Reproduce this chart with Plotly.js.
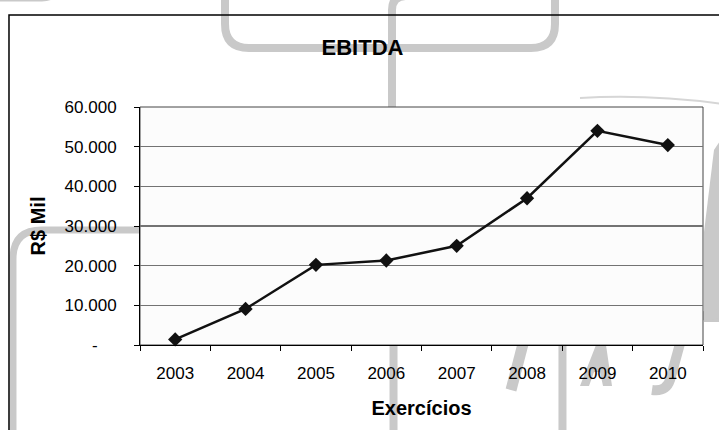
<!DOCTYPE html>
<html>
<head>
<meta charset="utf-8">
<script src="https://cdn.plot.ly/plotly-3.0.1.min.js"></script>
<style>html,body{margin:0;padding:0;background:#fff;}#chart{width:719px;height:430px;}</style>
</head>
<body>
<div id="chart"></div>
<script>
// ---- data ----
var years = ["2003", "2004", "2005", "2006", "2007", "2008", "2009", "2010"];
var ebitda = [1400, 9100, 20200, 21300, 25000, 37000, 54000, 50400];
var yTickVals = [0, 10000, 20000, 30000, 40000, 50000, 60000];
var yTickText = ["-\u00a0\u00a0\u00a0\u00a0", "10.000", "20.000", "30.000", "40.000", "50.000", "60.000"];
var chartTitle = "EBITDA";
var yTitle = "R$ Mil";
var xTitle = "Exercícios";

// ---- geometry (plot area in pixels) ----
var W = 719, H = 430;
var L = 140, R = 703, T = 107, B = 345;
function px(x) { return ((x - L) / (R - L)).toFixed(4); }
function py(y) { return ((B - y) / (B - T)).toFixed(4); }
function P(pts) {
  return pts.map(function (p) {
    var s = p[0];
    for (var i = 1; i < p.length; i += 2) s += (i > 1 ? ' ' : '') + px(p[i]) + ',' + py(p[i + 1]);
    return s;
  }).join(' ');
}
var WM = '#c9c9c9';
function wmLine(path, w) {
  return { type: 'path', xref: 'paper', yref: 'paper', layer: 'below', path: path,
           line: { color: WM, width: w } };
}
function wmFill(path) {
  return { type: 'path', xref: 'paper', yref: 'paper', layer: 'below', path: path,
           fillcolor: WM, line: { width: 0 } };
}

var shapes = [
  wmLine(P([['M', 225, -10], ['L', 225, 24], ['Q', 225, 48, 249, 48], ['L', 531, 48], ['Q', 555, 48, 555, 24], ['L', 555, -10]]), 8),
  wmLine(P([['M', 392, 110], ['L', 392, 10], ['Q', 392, -4, 406, -4]]), 8),
  wmLine(P([['M', -10, -2], ['L', 42, -2], ['Q', 54, -2, 56, -12]]), 7),
  wmLine(P([['M', 145, 230], ['L', 42, 230], ['Q', 13, 230, 13, 259], ['L', 13, 440]]), 7),
  wmLine(P([['M', 393.5, 340], ['L', 393.5, 440]]), 8),
  wmLine(P([['M', 562.5, 340], ['L', 562.5, 440]]), 8),
  wmLine(P([['M', 524, 340], ['L', 511, 390]]), 11),
  wmFill(P([['M', 596, 345], ['L', 606, 345], ['L', 612, 386], ['L', 603, 386], ['L', 600, 372], ['L', 594, 372], ['L', 589, 386], ['L', 580, 386], ['Z']])),
  wmLine(P([['M', 681, 340], ['L', 670, 380], ['Q', 666, 392, 652, 390]]), 10),
  wmFill(P([['M', 714, 150], ['L', 722, 138], ['L', 722, 322], ['L', 704, 322], ['L', 704, 232], ['Z']])),
  wmLine(P([['M', 700, 316], ['L', 722, 314]]), 9),
  { type: 'path', xref: 'paper', yref: 'paper', layer: 'below',
    path: P([['M', 580, 98], ['Q', 650, 94, 722, 104]]), line: { color: '#d6d6d6', width: 2 } },
  { type: 'path', xref: 'paper', yref: 'paper', layer: 'below',
    path: P([['M', 730, 15], ['L', 9, 15], ['L', 9, 440]]), line: { color: '#000', width: 1.5 } },
  { type: 'rect', xref: 'paper', yref: 'paper', layer: 'below', x0: 0, x1: 1, y0: 0, y1: 1,
    fillcolor: '#fcfcfc', line: { color: '#444', width: 1 } }
];

var font = "'Liberation Sans', Arial, sans-serif";

var trace = {
  type: 'scatter', mode: 'lines+markers',
  x: years, y: ebitda,
  line: { color: '#111', width: 2.5 },
  marker: { symbol: 'diamond', size: 11, color: '#111', line: { width: 0 } },
  hoverinfo: 'x+y', showlegend: false, cliponaxis: false
};

var layout = {
  width: W, height: H,
  margin: { l: L, r: W - R, t: T, b: H - B, pad: 0 },
  paper_bgcolor: '#ffffff',
  plot_bgcolor: 'rgba(0,0,0,0)',
  font: { family: font, size: 17, color: '#000' },
  showlegend: false,
  title: { text: '<b>' + chartTitle + '</b>', font: { family: font, size: 22, color: '#000' },
           xref: 'container', x: 362.5 / W, xanchor: 'center',
           yref: 'container', y: 1 - 47.5 / H, yanchor: 'middle' },
  xaxis: {
    type: 'category', range: [-0.5, 7.5], fixedrange: true,
    showgrid: false, zeroline: false,
    showline: true, linecolor: '#000', linewidth: 1,
    ticks: 'outside', tickson: 'boundaries', ticklen: 5, tickcolor: '#000', tickwidth: 1,
    tickfont: { family: font, size: 17, color: '#000' },
    ticklabelstandoff: 13,
    title: { text: '<b>' + xTitle + '</b>', font: { family: font, size: 20, color: '#000' }, standoff: 18 }
  },
  yaxis: {
    range: [0, 60000], fixedrange: true,
    tickmode: 'array', tickvals: yTickVals, ticktext: yTickText,
    showgrid: true, gridcolor: '#737373', gridwidth: 1.2,
    zeroline: false,
    showline: true, linecolor: '#000', linewidth: 1,
    ticks: 'outside', ticklen: 5, tickcolor: '#000', tickwidth: 1,
    tickfont: { family: font, size: 17, color: '#000' },
    ticklabelstandoff: 14,
    title: { text: '<b>' + yTitle + '</b>', font: { family: font, size: 20, color: '#000' }, standoff: 13 }
  },
  shapes: shapes
};

Plotly.newPlot('chart', [trace], layout, { displayModeBar: false, staticPlot: true });
</script>
</body>
</html>
